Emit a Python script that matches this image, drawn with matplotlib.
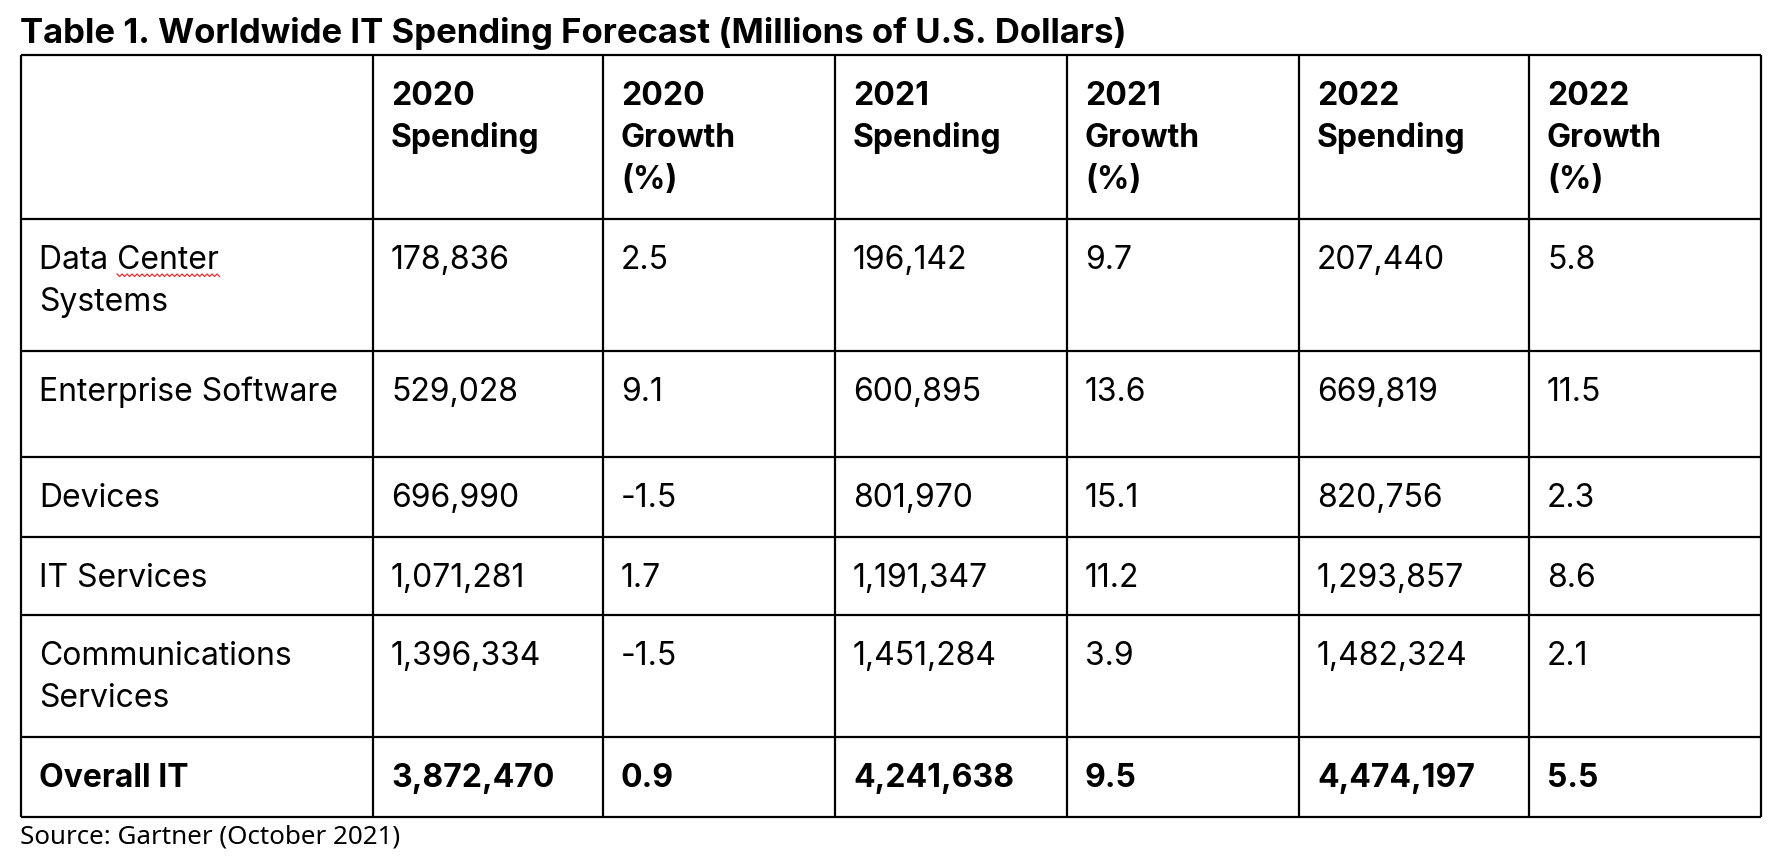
import matplotlib
matplotlib.use("Agg")
import matplotlib.pyplot as plt
import numpy as np

TITLE = "Table 1. Worldwide IT Spending Forecast (Millions of U.S. Dollars)"
SOURCE = "Source: Gartner (October 2021)"

headers = ["", "2020\nSpending", "2020\nGrowth\n(%)", "2021\nSpending",
           "2021\nGrowth\n(%)", "2022\nSpending", "2022\nGrowth\n(%)"]
categories = ["Data Center\nSystems", "Enterprise Software", "Devices",
              "IT Services", "Communications\nServices", "Overall IT"]
spend_2020 = [178836, 529028, 696990, 1071281, 1396334, 3872470]
growth_2020 = [2.5, 9.1, -1.5, 1.7, -1.5, 0.9]
spend_2021 = [196142, 600895, 801970, 1191347, 1451284, 4241638]
growth_2021 = [9.7, 13.6, 15.1, 11.2, 3.9, 9.5]
spend_2022 = [207440, 669819, 820756, 1293857, 1482324, 4474197]
growth_2022 = [5.8, 11.5, 2.3, 8.6, 2.1, 5.5]

# layout (pixels)
W, H = 1784, 868
col_edges = [21, 373, 603, 835, 1067, 1299, 1529, 1761]
row_edges = [55, 219, 351, 457, 537, 615, 737, 817]
PAD_X = 18
FIRST_BASE = 50
LINE_STEP = 42
FONT = "Inter"
FS = 23

fig = plt.figure(figsize=(W / 100, H / 100), dpi=100)
ax = fig.add_axes([0, 0, 1, 1])
ax.set_xlim(0, W)
ax.set_ylim(H, 0)
ax.axis("off")

ax.text(20, 43, TITLE, fontsize=25, fontweight="bold", family=FONT,
        va="baseline", ha="left")

# grid
lw = 1.6
ax.hlines(row_edges, col_edges[0], col_edges[-1], color="black", lw=lw)
ax.vlines(col_edges, row_edges[0], row_edges[-1], color="black", lw=lw)


def cell(r, c, txt, bold=False):
    x = col_edges[c] + PAD_X
    for i, line in enumerate(txt.split("\n")):
        y = row_edges[r] + FIRST_BASE + LINE_STEP * i
        ax.text(x, y, line, fontsize=FS, family=FONT, va="baseline", ha="left",
                fontweight="bold" if bold else "normal")


for c, h in enumerate(headers):
    if h:
        cell(0, c, h, bold=True)

for i, cat in enumerate(categories):
    bold = cat == "Overall IT"
    row = [cat, f"{spend_2020[i]:,}", f"{growth_2020[i]}", f"{spend_2021[i]:,}",
           f"{growth_2021[i]}", f"{spend_2022[i]:,}", f"{growth_2022[i]}"]
    for c, v in enumerate(row):
        cell(i + 1, c, v, bold=bold)

# spell-check squiggle under "Center"
fig.canvas.draw()
rend = fig.canvas.get_renderer()
inv = ax.transData.inverted()
x0 = col_edges[0] + PAD_X
tmp1 = ax.text(x0, 0, "Data ", fontsize=FS, family=FONT)
tmp2 = ax.text(x0, 0, "Data Center", fontsize=FS, family=FONT)
bx1 = inv.transform(tmp1.get_window_extent(rend))[1][0]
bx2 = inv.transform(tmp2.get_window_extent(rend))[1][0]
tmp1.remove()
tmp2.remove()
yb = row_edges[1] + FIRST_BASE + 5
xs = np.arange(bx1, bx2 + 3, 2.5)
ys = yb + np.where(np.arange(len(xs)) % 2 == 0, 0, 2.5)
ax.plot(xs, ys, color="#e03030", lw=0.9)

ax.text(20, 844, SOURCE, fontsize=18.7, family="Noto Sans", va="baseline",
        ha="left")

fig.savefig("out.png", dpi=100)
